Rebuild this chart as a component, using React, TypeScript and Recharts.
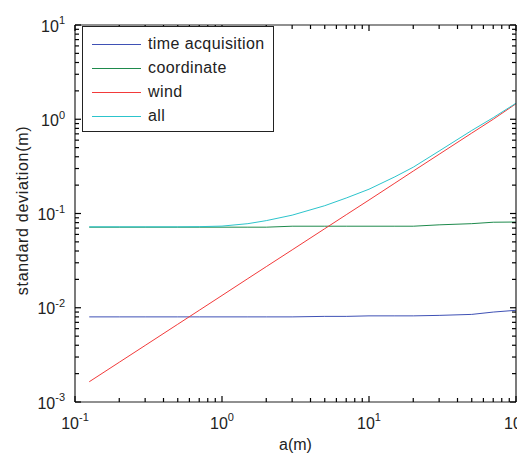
import React from 'react';
import { ComposedChart, Line, XAxis, YAxis, Legend } from 'recharts';

// a(m) sample points
const aValues = [0.125, 0.2, 0.3, 0.5, 0.7, 1, 1.5, 2, 3, 5, 7, 10, 15, 20, 30, 50, 70, 100];
const timeAcquisition = [0.008, 0.008, 0.008, 0.008, 0.008, 0.008, 0.008, 0.008, 0.008, 0.0081, 0.0081, 0.0082, 0.0082, 0.0082, 0.0083, 0.0085, 0.009, 0.0094];
const coordinate = [0.0716, 0.0716, 0.0716, 0.0716, 0.0716, 0.0716, 0.0716, 0.0716, 0.0733, 0.0733, 0.0733, 0.0733, 0.0733, 0.0733, 0.0758, 0.078, 0.0808, 0.0812];
const wind = [0.00164, 0.00264, 0.00398, 0.00668, 0.0094, 0.0135, 0.0204, 0.0273, 0.0411, 0.069, 0.097, 0.139, 0.21, 0.282, 0.425, 0.713, 1.0, 1.46];
const all = [0.0722, 0.0722, 0.0722, 0.0722, 0.0725, 0.0735, 0.078, 0.084, 0.096, 0.121, 0.146, 0.181, 0.245, 0.31, 0.46, 0.76, 1.04, 1.48];

const seriesNames = ['time acquisition', 'coordinate', 'wind', 'all'];

const xTicks = [0.1, 0.2, 0.3, 0.4, 0.5, 0.6, 0.7, 0.8, 0.9, 1, 2, 3, 4, 5, 6, 7, 8, 9, 10, 20, 30, 40, 50, 60, 70, 80, 90, 100];
const yTicks = [
  0.001, 0.002, 0.003, 0.004, 0.005, 0.006, 0.007, 0.008, 0.009,
  0.01, 0.02, 0.03, 0.04, 0.05, 0.06, 0.07, 0.08, 0.09,
  0.1, 0.2, 0.3, 0.4, 0.5, 0.6, 0.7, 0.8, 0.9,
  1, 2, 3, 4, 5, 6, 7, 8, 9, 10,
];

const data = aValues.map((a, i) => ({
  a,
  time: timeAcquisition[i],
  coord: coordinate[i],
  wind: wind[i],
  all: all[i],
}));

const FONT = '"Liberation Sans", Arial, Helvetica, sans-serif';
const MAJOR = 6;
const MINOR = 4;
const TICK = '#000';
const AXIS = { stroke: '#222', strokeWidth: 1.2 };

const expOf = (v: number) => Math.round(Math.log10(v));
const isMajor = (v: number) => Math.abs(Math.log10(v) - expOf(v)) < 1e-6;

const Pow = ({ x, y, exp, anchor }: any) => (
  <text x={x} y={y} textAnchor={anchor} fontFamily={FONT} fontSize={16} fill="#222">
    <tspan dy="0.35em">10</tspan>
    <tspan dy="-0.65em" fontSize={11}>{exp}</tspan>
  </text>
);

// tick marks point into the plot, like the reference's box axes
const BottomTick = ({ x, y, payload }: any) => {
  const v = payload.value;
  const major = isMajor(v);
  return (
    <g>
      <path d={`M${x},${y}V${y - (major ? MAJOR : MINOR)}`} stroke={TICK} strokeWidth={1.2} fill="none" />
      {major && <Pow x={x} y={y + 21} exp={expOf(v)} anchor="middle" />}
    </g>
  );
};

const TopTick = ({ x, y, payload }: any) => (
  <g>
    <path d={`M${x},${y}V${y + (isMajor(payload.value) ? MAJOR : MINOR)}`} stroke={TICK} strokeWidth={1.2} fill="none" />
  </g>
);

const LeftTick = ({ x, y, payload }: any) => {
  const v = payload.value;
  const major = isMajor(v);
  return (
    <g>
      <path d={`M${x},${y}H${x + (major ? MAJOR : MINOR)}`} stroke={TICK} strokeWidth={1.2} fill="none" />
      {major && <Pow x={x - 10} y={y + 1} exp={expOf(v)} anchor="end" />}
    </g>
  );
};

const RightTick = ({ x, y, payload }: any) => (
  <g>
    <path d={`M${x},${y}H${x - (isMajor(payload.value) ? MAJOR : MINOR)}`} stroke={TICK} strokeWidth={1.2} fill="none" />
  </g>
);

const XLabel = ({ viewBox }: any) => (
  <text x={viewBox.x + viewBox.width / 2} y={viewBox.y + 48} textAnchor="middle" fontFamily={FONT} fontSize={16} fill="#222">
    a(m)
  </text>
);

const YLabel = ({ viewBox }: any) => {
  const cx = viewBox.x + viewBox.width - 53;
  const cy = viewBox.y + viewBox.height / 2 - 3;
  return (
    <text x={cx} y={cy} transform={`rotate(-90, ${cx}, ${cy})`} textAnchor="middle" dy="0.35em"
      fontFamily={FONT} fontSize={16} letterSpacing={0.7} fill="#222">
      standard deviation(m)
    </text>
  );
};

const LegendBox = ({ payload }: any) => {
  const items = [...(payload || [])].sort((p: any, q: any) => seriesNames.indexOf(p.value) - seriesNames.indexOf(q.value));
  return (
    <div style={{ border: '1px solid #222', background: '#fff', width: 190, padding: '5px 0 3px 0', fontFamily: FONT, fontSize: 16, color: '#222', letterSpacing: 0.4 }}>
      {items.map((e: any) => (
        <div key={e.value} style={{ display: 'flex', alignItems: 'center', height: 24 }}>
          <span style={{ display: 'inline-block', width: 49, borderTop: `1px solid ${e.color}`, marginLeft: 9, marginRight: 7 }} />
          <span>{e.value}</span>
        </div>
      ))}
    </div>
  );
};

export default function App() {
  return (
    <div style={{ width: 517, height: 446 }}>
      <style>{'body{overflow:hidden}'}</style>
      <ComposedChart width={517} height={446} data={data} margin={{ top: 16, right: 8, bottom: 51, left: 66 }}>
        <XAxis dataKey="a" type="number" scale="log" domain={[0.1, 100]} allowDataOverflow ticks={xTicks}
          interval={0} height={1} tickSize={0} tickMargin={0} tickLine={false}
          axisLine={AXIS} tick={BottomTick} label={<XLabel />} />
        <XAxis xAxisId="top" orientation="top" dataKey="a" type="number" scale="log" domain={[0.1, 100]} allowDataOverflow
          ticks={xTicks} interval={0} height={1} tickSize={0} tickMargin={0} tickLine={false}
          axisLine={AXIS} tick={TopTick} />
        <YAxis type="number" scale="log" domain={[0.001, 10]} allowDataOverflow ticks={yTicks} interval={0}
          width={1} tickSize={0} tickMargin={0} tickLine={false} axisLine={AXIS}
          tick={LeftTick} label={<YLabel />} />
        <YAxis yAxisId="right" orientation="right" type="number" scale="log" domain={[0.001, 10]} allowDataOverflow
          ticks={yTicks} interval={0} width={1} tickSize={0} tickMargin={0} tickLine={false}
          axisLine={AXIS} tick={RightTick} />
        <Legend verticalAlign="middle" align="center" layout="horizontal" content={<LegendBox />}
          wrapperStyle={{ left: 74, top: 18, width: 'auto' }} />
        <Line type="linear" dataKey="time" name="time acquisition" stroke="#3f51b5" strokeWidth={1} dot={false} isAnimationActive={false} />
        <Line type="linear" dataKey="coord" name="coordinate" stroke="#1e8a4c" strokeWidth={1} dot={false} isAnimationActive={false} />
        <Line type="linear" dataKey="wind" name="wind" stroke="#f23a3a" strokeWidth={1} dot={false} isAnimationActive={false} />
        <Line type="linear" dataKey="all" name="all" stroke="#2cc4cc" strokeWidth={1} dot={false} isAnimationActive={false} />
      </ComposedChart>
    </div>
  );
}
